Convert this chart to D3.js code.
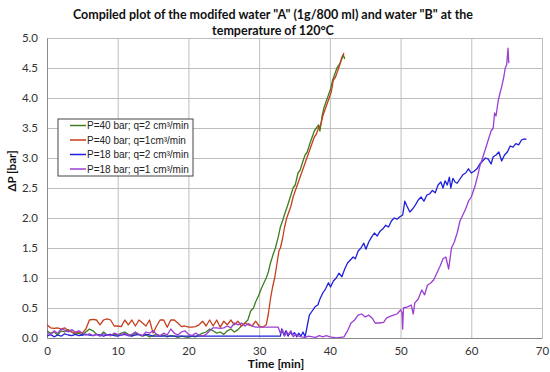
<!DOCTYPE html>
<meta charset="utf-8">
<body style="margin:0;background:#fff;">
<script src="https://d3js.org/d3.v7.min.js"></script>
<script>
	// chart text
	var titleLines = ['Compiled plot of the modifed water "A" (1g/800 ml) and water "B" at the', 'temperature of 120°C'];
	var xLabel = "Time [min]";
	var yLabel = "ΔP [bar]";
	var xTicks = [0, 10, 20, 30, 40, 50, 60, 70];
	var yTicks = [0, 0.5, 1, 1.5, 2, 2.5, 3, 3.5, 4, 4.5, 5];
	var seriesNames = ["P=40 bar; q=2 cm³/min", "P=40 bar; q=1cm³/min", "P=18 bar; q=2 cm³/min", "P=18 bar; q=1 cm³/min"];
	var seriesColors = ["#3f7d20", "#c63f1c", "#1f1fdc", "#9b3ed2"];

	// P=40 bar, q=2
	var greenT = [0,0.5,1,1.5,2,2.5,3,3.5,4,4.5,5,5.5,6,6.5,7,7.5,8,8.5,9,9.5,10,10.5,11,11.5,12,12.5,13,13.5,14,14.5,15,15.5,16,16.5,17,17.5,18,18.5,19,19.5,20,20.5,21,21.5,22,22.5,23,23.5,24,24.5,25,25.5,26,26.5,27,27.5,
		28,28.4,28.8,29.2,29.5,29.9,30.3,30.6,31,31.3,31.6,32,32.3,32.7,33,33.3,33.7,34,34.4,34.8,35.1,35.5,35.8,36.2,36.5,36.8,37.2,37.5,37.8,38.1,38.4,38.6,38.9,39.2,39.5,39.8,40.1,40.4,40.7,41,41.3,41.6,41.9,42.1];
	var greenV = [0.12,0.08,0.1,0.05,0.12,0.1,0.14,0.1,0.06,0.08,0.05,0.1,0.15,0.12,0.06,0.04,0.1,0.05,0.04,0.06,0.05,0.08,0.1,0.06,0.04,0.08,0.05,0.03,0.05,0.02,0.04,0.06,0.03,0.05,0.02,0.04,0.03,0.01,0.03,0.02,0.01,0.03,0.02,0.05,0.08,0.1,0.15,0.12,0.08,0.1,0.06,0.12,0.15,0.1,0.14,0.2,
		0.25,0.3,0.45,0.5,0.6,0.7,0.82,0.9,1.0,1.1,1.25,1.4,1.5,1.68,1.85,1.95,2.1,2.2,2.35,2.5,2.55,2.75,2.8,2.95,3.05,3.1,3.25,3.35,3.45,3.5,3.55,3.45,3.7,3.85,3.95,4.05,4.15,4.3,4.4,4.5,4.55,4.62,4.72,4.65];

	// P=40 bar, q=1
	var redT = [0,0.5,1,1.5,2,2.5,3,3.5,4,4.5,5,5.5,6,6.5,7,7.5,8,8.5,9,9.5,10,10.5,11,11.5,12,12.5,13,13.5,14,14.5,15,15.5,16,16.5,17,17.5,18,18.5,19,19.5,20,20.5,21,21.5,22,22.5,23,23.5,24,24.5,25,25.5,26,26.5,27,27.5,28,28.5,29,29.5,30,30.5,31,
		31.3,31.6,31.9,32.2,32.4,32.6,32.8,33,33.3,33.6,33.9,34.2,34.5,34.8,35.1,35.4,35.7,36,36.3,36.6,36.9,37.2,37.5,37.8,38.1,38.4,38.7,39,39.3,39.6,39.9,40.2,40.5,40.8,41.1,41.4,41.7,42];
	var redV = [0.22,0.17,0.16,0.17,0.15,0.17,0.12,0.1,0.08,0.1,0.08,0.15,0.3,0.31,0.3,0.22,0.3,0.32,0.3,0.2,0.2,0.19,0.3,0.22,0.3,0.2,0.3,0.25,0.2,0.3,0.08,0.2,0.3,0.3,0.18,0.3,0.3,0.25,0.19,0.2,0.18,0.18,0.19,0.22,0.28,0.2,0.3,0.2,0.3,0.18,0.28,0.22,0.3,0.22,0.28,0.2,0.25,0.22,0.2,0.28,0.2,0.18,0.22,
		0.4,0.65,0.85,1.0,1.15,1.3,1.45,1.5,1.65,1.85,2.0,2.1,2.2,2.35,2.45,2.55,2.65,2.75,2.85,2.95,3.05,3.15,3.25,3.35,3.4,3.5,3.55,3.7,3.8,3.9,4.0,4.1,4.3,4.35,4.45,4.55,4.68,4.75];

	// P=18 bar, q=2
	var blueT = [0,0.5,1,1.5,2,2.5,3,3.5,4,4.5,5,5.5,6,6.5,7,7.5,8,8.5,9,9.5,10,10.5,11,11.5,12,12.5,13,13.5,14,14.5,15,16,33,
		33.2,33.5,33.8,34.1,34.4,34.7,35,35.3,35.6,35.9,36.2,36.5,36.8,37.1,37.5,37.9,38.3,38.6,39,39.4,39.8,40.1,40.5,40.9,41.3,41.7,42.1,42.5,42.9,43.3,43.6,44,44.4,44.8,45.1,45.5,45.9,46.3,46.7,47.1,47.5,47.9,48.3,48.7,49.1,49.5,49.9,50.3,50.6,50.9,51.3,51.7,52.1,52.5,52.9,53.3,53.7,54.1,54.5,54.9,55.3,55.7,56,56.3,56.6,56.9,57.1,57.4,57.7,58,58.4,58.8,59.2,59.6,60,60.4,60.8,61.2,61.6,62,62.4,62.8,63.1,63.5,63.9,64.3,64.7,65.1,65.5,65.9,66.3,66.7,67.1,67.5,67.8];
	var blueV = [0.03,0.06,0.02,0.05,0.03,0.07,0.05,0.04,0.06,0.04,0.05,0.06,0.05,0.04,0.06,0.05,0.03,0.05,0.06,0.04,0.03,0.05,0.06,0.04,0.03,0.05,0.06,0.04,0.06,0.05,0.03,0.03,0.03,
		0.15,0.05,0.12,0.03,0.1,0.05,0.09,0.02,0.08,0.03,0.1,0.02,0.2,0.38,0.45,0.52,0.55,0.65,0.75,0.82,0.92,0.85,0.95,1.0,1.08,1.02,1.15,1.25,1.3,1.35,1.32,1.45,1.5,1.58,1.48,1.6,1.68,1.75,1.7,1.78,1.82,1.88,1.85,1.95,2.0,1.98,2.02,2.05,2.28,2.2,2.1,2.15,2.22,2.3,2.35,2.28,2.38,2.4,2.46,2.42,2.55,2.6,2.5,2.62,2.55,2.68,2.5,2.66,2.6,2.58,2.65,2.72,2.75,2.82,2.75,2.78,2.82,2.9,2.95,3.0,2.98,2.9,3.02,3.05,3.1,2.95,3.05,3.1,3.2,3.18,3.24,3.22,3.3,3.32,3.31];

	// P=18 bar, q=1
	var purpleT = [0,0.5,1,1.5,2,2.5,3,3.5,4,4.5,5,5.5,6,6.5,7,7.5,8,8.5,9,9.5,10,10.5,11,11.5,12,12.5,13,13.5,14,14.5,15,15.5,16,16.5,17,17.5,18,18.5,19,19.5,20,20.5,21,21.5,22,22.5,23,23.5,24,24.5,25,25.5,26,26.5,27,27.5,28,28.5,29,29.5,32.7,
		33,33.3,33.6,33.9,34.2,34.5,34.8,35.2,35.6,36,36.5,37,37.5,38,38.5,39,39.5,40,40.5,41,41.5,42,42.5,43,43.5,44,44.5,45,45.5,46,46.4,47,47.6,48,48.5,49,49.5,50,50.2,50.3,50.4,51,51.5,51.8,52,52.5,53,53.4,53.8,54.3,54.7,55.2,55.6,56,56.4,56.8,57.2,57.6,58,58.4,58.8,59.2,59.6,60,60.5,60.9,61.2,61.6,62,62.4,62.8,63.1,63.3,63.5,63.8,64.1,64.3,64.6,64.8,65,65.2,65.3];
	var purpleV = [0.1,0.05,0.12,0.08,0.15,0.13,0.1,0.14,0.1,0.12,0.08,0.05,0.07,0.04,0.06,0.03,0.07,0.05,0.04,0.08,0.06,0.05,0.08,0.04,0.06,0.1,0.06,0.04,0.1,0.08,0.12,0.06,0.04,0.08,0.05,0.15,0.08,0.05,0.1,0.12,0.06,0.04,0.08,0.05,0.03,0.06,0.12,0.17,0.17,0.16,0.17,0.2,0.17,0.25,0.22,0.25,0.2,0.24,0.2,0.18,0.18,
		0.08,0.14,0.03,0.1,0.06,0.12,0.02,0.06,0.03,0.02,0.01,0.03,0.02,0.01,0.04,0.02,0.04,0.02,0.01,0.0,0.01,0.02,0.12,0.25,0.3,0.38,0.4,0.35,0.38,0.33,0.25,0.25,0.26,0.33,0.36,0.38,0.4,0.47,0.42,0.15,0.5,0.52,0.55,0.4,0.58,0.65,0.8,0.72,0.88,0.92,0.97,1.1,1.2,1.32,1.35,1.15,1.5,1.6,1.75,1.95,2.05,2.15,2.28,2.35,2.52,2.7,2.86,3.0,3.15,3.3,3.45,3.5,3.75,3.7,3.95,4.1,4.19,4.35,4.5,4.55,4.83,4.58];

	var seriesT = [greenT, redT, blueT, purpleT];
	var seriesV = [greenV, redV, blueV, purpleV];

	var W = 550, H = 372;
	var plotL = 47, plotR = 542, plotT = 38, plotB = 338;

	var x = d3.scaleLinear().domain([0, 70]).range([plotL, plotR]);
	var y = d3.scaleLinear().domain([0, 5]).range([plotB, plotT]);

	var svg = d3.select("body").append("svg")
		.attr("width", W)
		.attr("height", H)
		.style("font-family", "Lato, 'Open Sans', sans-serif");

	// gridlines
	svg.append("g")
		.attr("transform", "translate(0," + plotB + ")")
		.call(d3.axisBottom(x).tickValues(xTicks).tickSize(-(plotB - plotT)).tickFormat(""))
		.call(function(g) { g.select(".domain").remove(); })
		.selectAll("line").attr("stroke", "#bdbdbd");
	svg.append("g")
		.attr("transform", "translate(" + plotL + ",0)")
		.call(d3.axisLeft(y).tickValues(yTicks).tickSize(-(plotR - plotL)).tickFormat(""))
		.call(function(g) { g.select(".domain").remove(); })
		.selectAll("line").attr("stroke", "#bdbdbd");

	// axes
	var xAxis = svg.append("g")
		.attr("transform", "translate(0," + plotB + ")")
		.call(d3.axisBottom(x).tickValues(xTicks).tickSize(0).tickPadding(9).tickFormat(d3.format("d")));
	var yAxis = svg.append("g")
		.attr("transform", "translate(" + plotL + ",0)")
		.call(d3.axisLeft(y).tickValues(yTicks).tickSize(0).tickPadding(9).tickFormat(d3.format(".1f")));
	[xAxis, yAxis].forEach(function(a) {
		a.select(".domain").attr("stroke", "#8a8a8a");
		a.selectAll("text").attr("fill", "#333").style("font-size", "11.5px").style("font-family", "Lato, sans-serif");
	});

	// series lines
	svg.append("clipPath").attr("id", "clip")
		.append("rect").attr("x", plotL).attr("y", plotT - 2).attr("width", plotR - plotL).attr("height", plotB - plotT + 2);

	var line = d3.line()
		.x(function(d) { return x(d[0]); })
		.y(function(d) { return y(d[1]); });

	seriesT.forEach(function(ts, i) {
		var pts = ts.map(function(t, j) { return [t, seriesV[i][j]]; });
		svg.append("path")
			.datum(pts)
			.attr("clip-path", "url(#clip)")
			.attr("fill", "none")
			.attr("stroke", seriesColors[i])
			.attr("stroke-width", 1.3)
			.attr("stroke-linejoin", "round")
			.attr("d", line);
	});

	// title
	svg.append("text")
		.attr("x", 273).attr("y", 19)
		.attr("text-anchor", "middle")
		.style("font-weight", "bold").style("font-size", "12.5px").attr("fill", "#111")
		.selectAll("tspan")
		.data(titleLines)
		.enter().append("tspan")
		.attr("x", 273)
		.attr("dy", function(d, i) { return i == 0 ? 0 : 16; })
		.text(function(d) { return d; });

	// axis titles
	svg.append("text")
		.attr("x", 276).attr("y", 368)
		.attr("text-anchor", "middle")
		.style("font-weight", "bold").style("font-size", "12px").attr("fill", "#111")
		.text(xLabel);
	svg.append("text")
		.attr("transform", "translate(16,171) rotate(-90)")
		.attr("text-anchor", "middle")
		.style("font-weight", "bold").style("font-size", "11.5px").attr("fill", "#111")
		.text(yLabel);

	// legend
	var legend = svg.append("g").attr("transform", "translate(58,119)");
	legend.append("rect")
		.attr("width", 135).attr("height", 57)
		.attr("fill", "#fff").attr("stroke", "#444").attr("stroke-width", 1);
	var items = legend.selectAll(".item")
		.data(seriesNames)
		.enter().append("g")
		.attr("class", "item")
		.attr("transform", function(d, i) { return "translate(0," + (6.5 + i * 14.5) + ")"; });
	items.append("line")
		.attr("x1", 12).attr("x2", 28)
		.attr("stroke", function(d, i) { return seriesColors[i]; })
		.attr("stroke-width", 1.5);
	items.append("text")
		.attr("x", 29).attr("dy", "0.35em")
		.style("font-family", "'Liberation Sans', Arial, sans-serif")
		.style("font-size", "10px").attr("fill", "#222")
		.text(function(d) { return d; });
</script>
</body>
